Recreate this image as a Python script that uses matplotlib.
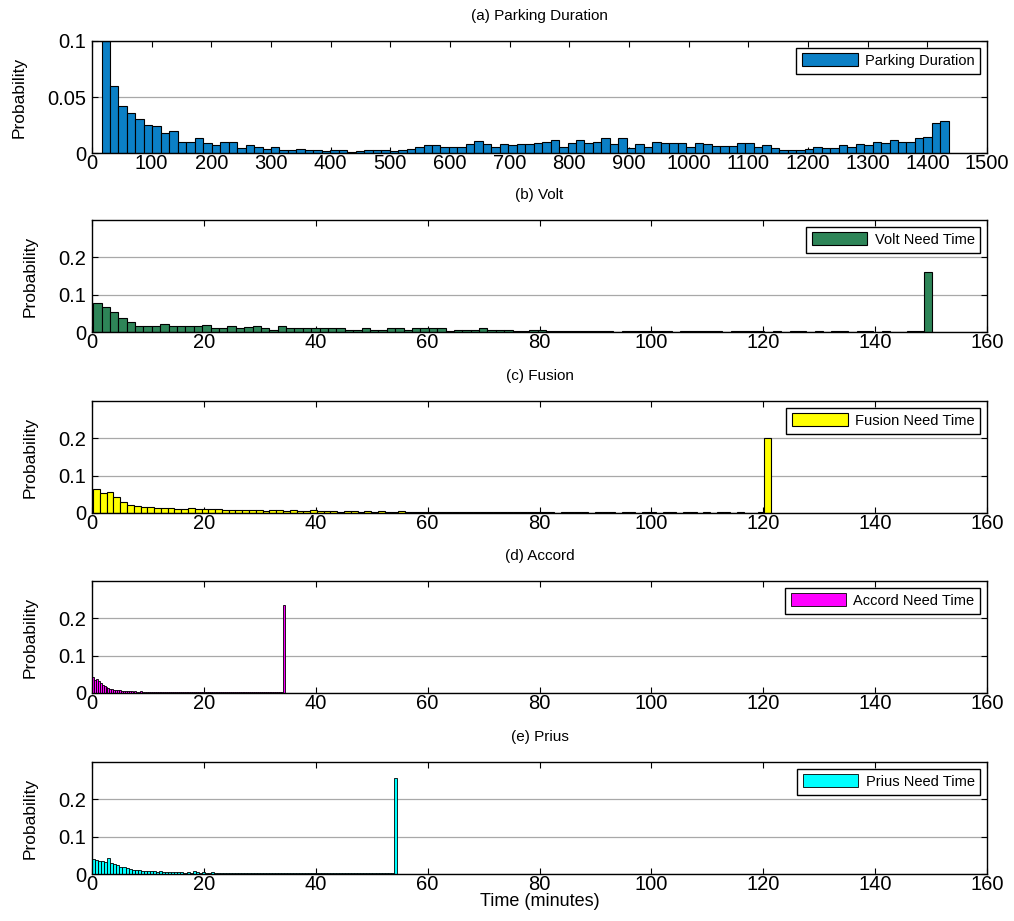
import numpy as np
import matplotlib
matplotlib.use('Agg')
import matplotlib.pyplot as plt

# (a) parking duration histogram, 100 bins between 16 and 1436 minutes
park_edges = (16, 1436)
park = [0.100, 0.060, 0.042, 0.0355, 0.030, 0.025, 0.024, 0.018, 0.0197, 0.010,
        0.010, 0.013, 0.0085, 0.0067, 0.010, 0.010, 0.0045, 0.0067, 0.005, 0.004,
        0.005, 0.003, 0.003, 0.004, 0.003, 0.003, 0.002, 0.003, 0.003, 0.001,
        0.002, 0.003, 0.003, 0.003, 0.002, 0.003, 0.004, 0.0057, 0.0067, 0.0067,
        0.005, 0.005, 0.0057, 0.0076, 0.011, 0.0076, 0.0057, 0.0076, 0.0067, 0.0076,
        0.0076, 0.0088, 0.0097, 0.0118, 0.0055, 0.0088, 0.0118, 0.0088, 0.010, 0.0136,
        0.0076, 0.0136, 0.0045, 0.0076, 0.0058, 0.010, 0.0088, 0.0088, 0.0088, 0.0058,
        0.0088, 0.0076, 0.0064, 0.0064, 0.0064, 0.0088, 0.0088, 0.0058, 0.0067, 0.0045,
        0.0027, 0.0027, 0.0027, 0.004, 0.0058, 0.0045, 0.0045, 0.0067, 0.0058, 0.0076,
        0.0067, 0.0097, 0.0088, 0.012, 0.010, 0.010, 0.013, 0.014, 0.027, 0.0285]

# (b) Volt need time, 100 bins between 0.2 and 150.2 minutes
volt_edges = (0.2, 150.2)
volt = [0.077, 0.066, 0.053, 0.038, 0.026, 0.017, 0.017, 0.017, 0.021, 0.017,
        0.015, 0.015, 0.015, 0.018, 0.012, 0.012, 0.015, 0.010, 0.013, 0.015,
        0.0095, 0.006, 0.015, 0.010, 0.012, 0.0095, 0.010, 0.012, 0.012, 0.0095,
        0.006, 0.006, 0.0095, 0.006, 0.006, 0.0095, 0.0095, 0.006, 0.0095, 0.0095,
        0.0095, 0.0095, 0.003, 0.006, 0.006, 0.006, 0.0095, 0.006, 0.006, 0.006,
        0.003, 0.003, 0.006, 0.006, 0.004, 0.004, 0.003, 0.004, 0.004, 0.003,
        0.004, 0.004, 0.000, 0.004, 0.004, 0.004, 0.004, 0.004, 0.003, 0.000,
        0.004, 0.004, 0.004, 0.004, 0.004, 0.000, 0.003, 0.003, 0.004, 0.003,
        0.000, 0.003, 0.000, 0.004, 0.003, 0.000, 0.004, 0.000, 0.003, 0.004,
        0.000, 0.004, 0.003, 0.000, 0.003, 0.000, 0.000, 0.003, 0.003, 0.160]

# (c) Fusion need time, 100 bins between 0.2 and 121.4
fusion_edges = (0.2, 121.4)
fusion = [0.065, 0.053, 0.055, 0.044, 0.029, 0.022, 0.018, 0.016, 0.015, 0.014,
          0.013, 0.014, 0.012, 0.012, 0.013, 0.011, 0.012, 0.010, 0.011, 0.009,
          0.008, 0.009, 0.008, 0.007, 0.008, 0.006, 0.007, 0.008, 0.006, 0.007,
          0.006, 0.005, 0.007, 0.006, 0.005, 0.006, 0.004, 0.005, 0.006, 0.004,
          0.005, 0.004, 0.005, 0.004, 0.003, 0.005, 0.004, 0.003, 0.004, 0.004,
          0.003, 0.004, 0.003, 0.003, 0.004, 0.003, 0.002, 0.003, 0.004, 0.003,
          0.003, 0.002, 0.003, 0.003, 0.002, 0.003, 0.003, 0.002, 0.000, 0.003,
          0.002, 0.003, 0.002, 0.000, 0.003, 0.002, 0.002, 0.000, 0.003, 0.002,
          0.000, 0.002, 0.003, 0.000, 0.002, 0.002, 0.000, 0.003, 0.002, 0.000,
          0.002, 0.000, 0.002, 0.002, 0.000, 0.002, 0.000, 0.000, 0.002, 0.202]

# (d) Accord need time, 100 bins between 0 and 34.5
accord_edges = (0.0, 34.5)
accord = [0.043, 0.035, 0.038, 0.031, 0.027, 0.022, 0.019, 0.016, 0.014, 0.012,
          0.010, 0.009, 0.008, 0.008, 0.007, 0.006, 0.006, 0.005, 0.006, 0.005,
          0.005, 0.004, 0.005, 0.004, 0.004, 0.005, 0.004, 0.004, 0.003, 0.004,
          0.004, 0.003, 0.004, 0.003, 0.004, 0.003, 0.003, 0.004, 0.003, 0.003,
          0.004, 0.003, 0.003, 0.003, 0.004, 0.003, 0.003, 0.002, 0.003, 0.003,
          0.003, 0.002, 0.003, 0.003, 0.003, 0.002, 0.003, 0.003, 0.002, 0.003,
          0.003, 0.003, 0.002, 0.003, 0.002, 0.003, 0.003, 0.002, 0.003, 0.002,
          0.003, 0.002, 0.003, 0.002, 0.002, 0.003, 0.002, 0.003, 0.002, 0.002,
          0.003, 0.002, 0.002, 0.003, 0.002, 0.002, 0.002, 0.003, 0.002, 0.002,
          0.002, 0.003, 0.002, 0.002, 0.002, 0.003, 0.002, 0.002, 0.003, 0.235]

# (e) Prius need time, 100 bins between 0 and 54.5
prius_edges = (0.0, 54.5)
prius = [0.041, 0.038, 0.036, 0.034, 0.031, 0.042, 0.029, 0.026, 0.023, 0.020,
         0.018, 0.016, 0.014, 0.012, 0.011, 0.010, 0.009, 0.008, 0.008, 0.007,
         0.007, 0.006, 0.007, 0.006, 0.005, 0.006, 0.005, 0.006, 0.005, 0.005,
         0.004, 0.005, 0.004, 0.009, 0.005, 0.004, 0.005, 0.004, 0.004, 0.005,
         0.004, 0.004, 0.003, 0.004, 0.004, 0.003, 0.004, 0.003, 0.004, 0.003,
         0.003, 0.004, 0.003, 0.003, 0.004, 0.003, 0.003, 0.003, 0.004, 0.003,
         0.003, 0.003, 0.002, 0.003, 0.003, 0.004, 0.003, 0.002, 0.003, 0.003,
         0.002, 0.003, 0.003, 0.002, 0.003, 0.003, 0.002, 0.003, 0.002, 0.003,
         0.003, 0.002, 0.003, 0.002, 0.002, 0.003, 0.002, 0.003, 0.002, 0.002,
         0.003, 0.002, 0.002, 0.003, 0.002, 0.002, 0.003, 0.002, 0.002, 0.257]

panels = [
    ('(a) Parking Duration', 'Parking Duration', park, park_edges, '#0b80c6'),
    ('(b) Volt', 'Volt Need Time', volt, volt_edges, '#2e8558'),
    ('(c) Fusion', 'Fusion Need Time', fusion, fusion_edges, '#ffff00'),
    ('(d) Accord', 'Accord Need Time', accord, accord_edges, '#ff00ff'),
    ('(e) Prius', 'Prius Need Time', prius, prius_edges, '#00ffff'),
]

plt.rcParams['font.family'] = ['Liberation Sans', 'DejaVu Sans']

fig = plt.figure(figsize=(10.14, 9.21), dpi=100)
left, width = 92 / 1014, 895 / 1014
tops = [41, 220, 401, 581, 762]
height = 112 / 921

for i, (title, lab, vals, edges, col) in enumerate(panels):
    ax = fig.add_axes([left, 1 - tops[i] / 921 - height, width, height])
    e = np.linspace(edges[0], edges[1], len(vals) + 1)
    lw = 0.8 if i < 3 else 0.6
    ax.bar(e[:-1], vals, width=np.diff(e), align='edge', color=col,
           edgecolor='black', linewidth=lw, label=lab)
    if i == 0:
        ax.set_xlim(0, 1500)
        ax.set_xticks(np.arange(0, 1501, 100))
        ax.set_ylim(0, 0.1)
        ax.set_yticks([0, 0.05, 0.1])
        ax.set_yticklabels(['0', '0.05', '0.1'])
    else:
        ax.set_xlim(0, 160)
        ax.set_xticks(np.arange(0, 161, 20))
        ax.set_ylim(0, 0.3)
        ax.set_yticks([0, 0.1, 0.2])
        ax.set_yticklabels(['0', '0.1', '0.2'])
    ax.set_axisbelow(True)
    ax.yaxis.grid(True, color='#a8a8a8', linewidth=0.9)
    ax.tick_params(direction='in', top=True, right=True, length=4,
                   labelsize=14.5)
    ax.tick_params(axis='x', pad=1)
    ax.tick_params(axis='y', pad=4)
    for s in ax.spines.values():
        s.set_linewidth(1.0)
    ax.set_ylabel('Probability', fontsize=12.5)
    ax.yaxis.set_label_coords(-0.0726 if i == 0 else -0.0603, 0.5)
    ax.set_title(title, fontsize=11, pad=15)
    ax.legend(loc='upper right', fontsize=10.5, fancybox=False, edgecolor='black',
              framealpha=1, handlelength=3.8, handleheight=1.0,
              borderaxespad=0.45, borderpad=0.4, handletextpad=0.5)
    if i == 4:
        ax.set_xlabel('Time (minutes)', fontsize=13, labelpad=-1)

fig.savefig('out.png', dpi=100)
